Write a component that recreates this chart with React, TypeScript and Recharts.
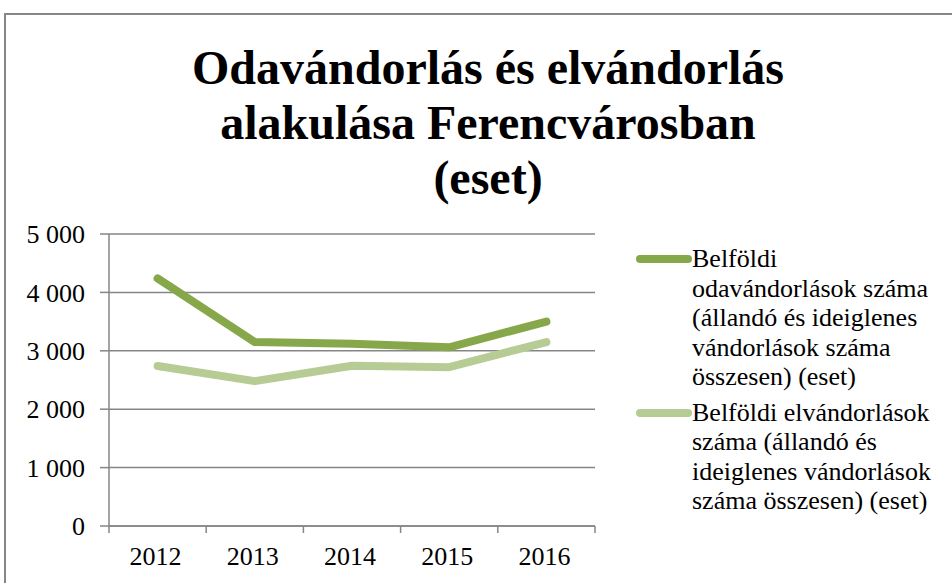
import { LineChart, Line, XAxis, YAxis, CartesianGrid } from "recharts";

const years = ["2012", "2013", "2014", "2015", "2016"];
const inflow = [4240, 3150, 3120, 3060, 3500];
const outflow = [2740, 2480, 2745, 2720, 3150];
const yTicks = [0, 1000, 2000, 3000, 4000, 5000];

const inName =
  "Belföldi odavándorlások száma (állandó és ideiglenes vándorlások száma összesen) (eset)";
const outName =
  "Belföldi elvándorlások száma (állandó és ideiglenes vándorlások száma összesen) (eset)";

const data = years.map((y, i) => ({ year: y, inflow: inflow[i], outflow: outflow[i] }));

const FONT = '"Liberation Serif", "Times New Roman", serif';
const AXIS = "#868686";
const DARK = "#86a84a";
const LIGHT = "#b6cc94";

const fmt = (v: number) => String(v).replace(/\B(?=(\d{3})+(?!\d))/g, " ");

function YearTick(props: any) {
  const { x, y, payload, index, visibleTicksCount, width } = props;
  const band = width / visibleTicksCount;
  const top = y - 8;
  return (
    <g>
      <line x1={x - band / 2} x2={x - band / 2} y1={top} y2={top + 7} stroke={AXIS} strokeWidth={1.5} />
      {index === visibleTicksCount - 1 && (
        <line x1={x + band / 2} x2={x + band / 2} y1={top} y2={top + 7} stroke={AXIS} strokeWidth={1.5} />
      )}
      <text x={x - 2} y={top + 39} textAnchor="middle" fontFamily={FONT} fontSize={26} fill="#000">
        {payload.value}
      </text>
    </g>
  );
}

function LegendBox() {
  const items = [
    { name: inName, color: DARK },
    { name: outName, color: LIGHT },
  ];
  return (
    <div style={{ fontFamily: FONT, fontSize: 26, lineHeight: "29.5px", color: "#000" }}>
      {items.map((it) => (
        <div key={it.name} style={{ display: "flex", alignItems: "flex-start", marginBottom: 6 }}>
          <div
            style={{
              width: 56,
              height: 8,
              borderRadius: 4,
              background: it.color,
              marginTop: 11,
              flexShrink: 0,
            }}
          />
          <div style={{ width: 256 }}>{it.name}</div>
        </div>
      ))}
    </div>
  );
}

export default function App() {
  return (
    <div style={{ position: "absolute", left: 0, top: 0, width: 952, height: 583, overflow: "hidden", background: "#fff" }}>
      <div
        style={{
          position: "absolute",
          left: 4,
          top: 13,
          width: 1000,
          height: 700,
          borderLeft: `2px solid ${AXIS}`,
          borderTop: `2px solid ${AXIS}`,
        }}
      />
      <div
        style={{
          position: "absolute",
          left: 88,
          width: 800,
          top: 40,
          textAlign: "center",
          fontFamily: FONT,
          fontWeight: "bold",
          fontSize: 48,
          lineHeight: "55px",
          color: "#000",
        }}
      >
        Odavándorlás és elvándorlás
        <br />
        alakulása Ferencvárosban
        <br />
        (eset)
      </div>
      <div style={{ position: "absolute", left: 0, top: 0 }}>
        <LineChart width={952} height={583} data={data} margin={{ top: 234, right: 357, bottom: 17, left: 29 }}>
          <CartesianGrid vertical={false} stroke={AXIS} strokeWidth={1.5} />
          <XAxis
            dataKey="year"
            scale="band"
            axisLine={{ stroke: AXIS, strokeWidth: 1.5 }}
            tickLine={false}
            tick={<YearTick />}
            height={40}
            interval={0}
          />
          <YAxis
            domain={[0, 5000]}
            ticks={yTicks}
            tickFormatter={fmt}
            width={80}
            axisLine={{ stroke: AXIS, strokeWidth: 1.5 }}
            tickLine={{ stroke: AXIS, strokeWidth: 1.5 }}
            tickSize={9}
            tickMargin={15}
            tick={{ fontFamily: FONT, fontSize: 26, fill: "#000" }}
          />
          <Line
            dataKey="inflow"
            name={inName}
            stroke={DARK}
            strokeWidth={8}
            strokeLinecap="round"
            strokeLinejoin="round"
            dot={false}
            isAnimationActive={false}
          />
          <Line
            dataKey="outflow"
            name={outName}
            stroke={LIGHT}
            strokeWidth={8}
            strokeLinecap="round"
            strokeLinejoin="round"
            dot={false}
            isAnimationActive={false}
          />
        </LineChart>
      </div>
      <div style={{ position: "absolute", left: 636, top: 244, width: 316 }}>
        <LegendBox />
      </div>
    </div>
  );
}
